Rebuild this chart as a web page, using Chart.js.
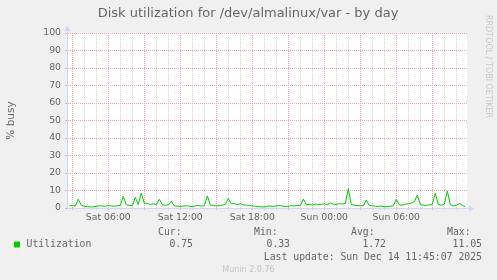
<!DOCTYPE html>
<html>
<head>
<meta charset="utf-8">
<script src="https://cdn.jsdelivr.net/npm/chart.js@4.4.0/dist/chart.umd.min.js"></script>
<style>
  body { margin: 0; background: #f0f0f0; }
</style>
</head>
<body>
<canvas id="diskChart" width="497" height="280"></canvas>
<script>
// samples every 15 minutes, hours counted from Sat 00:00
const startHour = 2.75;
const stepHour = 0.25;
const utilization = [
  1.2, 1.4, 1.1, 5.0, 1.6,
  1.0, 0.8, 0.6, 0.7, 0.9,
  1.3, 1.1, 1.0, 1.4, 1.2, 1.0, 1.3, 1.5,
  6.6, 1.8, 1.5, 1.4, 6.0, 2.0, 8.5,
  2.8, 2.6, 2.0, 2.4, 1.8, 5.0,
  1.9, 1.5, 1.8, 3.9,
  1.2, 1.0, 0.9, 1.1, 1.3, 1.0, 0.8, 1.2, 1.5, 1.1, 1.3,
  6.9, 1.8, 1.4, 1.2, 1.3, 1.6, 2.0, 5.5,
  2.3, 2.6, 1.8, 2.4, 1.9, 1.6, 1.4,
  1.2, 1.0, 0.8, 0.6, 0.7, 1.0, 1.1, 0.9, 1.2, 1.4, 1.1, 0.9, 1.0, 1.3, 1.2, 1.5, 1.4,
  5.1,
  1.8, 2.0, 1.7, 2.2, 1.9, 2.1, 2.4, 2.0, 2.9, 2.2, 2.0, 2.5, 2.3, 2.6,
  11.05,
  1.9, 1.6, 1.4, 1.3, 1.2, 4.6,
  1.5, 1.2, 1.0, 0.9, 1.1, 0.8, 0.7, 1.0, 1.2, 5.0,
  1.8, 1.6, 2.2, 2.4, 2.8, 3.6, 7.4,
  2.0, 1.6, 1.4, 1.8, 2.0, 8.4,
  1.9, 1.6, 2.2, 9.7,
  2.0, 1.2, 1.5, 2.7, 1.4, 0.75
];
const tickHours = [6, 12, 18, 24, 30];
const tickLabels = ["Sat 06:00", "Sat 12:00", "Sat 18:00", "Sun 00:00", "Sun 06:00"];
const statNames = ["Cur:", "Min:", "Avg:", "Max:"];
const statValues = ["0.75", "0.33", "1.72", "11.05"];

const GRID = "#d4d4d4";
const MGRID = "#f2a6a6";
const AXIS = "#cfd6f8";
const FONT = "#666666";

const points = utilization.map((v, i) => ({ x: startHour + i * stepHour, y: v }));

const muninDeco = {
  id: "muninDeco",
  beforeDraw(chart) {
    const { ctx, chartArea: a } = chart;
    ctx.save();
    ctx.fillStyle = "#f0f0f0";
    ctx.fillRect(0, 0, chart.width, chart.height);
    ctx.fillStyle = "#ffffff";
    ctx.fillRect(a.left, a.top, a.right - a.left, a.bottom - a.top);
    ctx.restore();
  },
  afterDraw(chart) {
    const { ctx, chartArea: a } = chart;
    ctx.save();
    // axis arrows
    ctx.fillStyle = AXIS;
    ctx.strokeStyle = AXIS;
    ctx.lineWidth = 1;
    ctx.beginPath();
    ctx.moveTo(a.left + 0.5, a.top);
    ctx.lineTo(a.left + 0.5, a.top - 3);
    ctx.moveTo(a.right, a.bottom + 0.5);
    ctx.lineTo(a.right + 3, a.bottom + 0.5);
    ctx.stroke();
    ctx.beginPath();
    ctx.moveTo(a.left - 2.5, a.top - 2);
    ctx.lineTo(a.left + 3.5, a.top - 2);
    ctx.lineTo(a.left + 0.5, a.top - 7);
    ctx.fill();
    ctx.beginPath();
    ctx.moveTo(a.right + 2, a.bottom - 2.5);
    ctx.lineTo(a.right + 2, a.bottom + 3.5);
    ctx.lineTo(a.right + 7, a.bottom + 0.5);
    ctx.fill();

    ctx.fillStyle = FONT;
    ctx.textBaseline = "middle";
    ctx.textAlign = "center";
    ctx.font = "13px 'DejaVu Sans'";
    ctx.fillText("Disk utilization for /dev/almalinux/var - by day", 248, 13.5);

    // legend
    ctx.font = "9.8px 'DejaVu Sans Mono'";
    ctx.textAlign = "left";
    const nameX = [158, 254, 351, 447];
    const valX = [193, 290, 386, 482];
    statNames.forEach((n, i) => ctx.fillText(n, nameX[i], 232.5));
    ctx.textAlign = "right";
    statValues.forEach((v, i) => ctx.fillText(v, valX[i], 244.5));
    ctx.fillText("Last update: Sun Dec 14 11:45:07 2025", 482, 257);
    ctx.textAlign = "left";
    ctx.fillText("Utilization", 26.5, 244.5);
    ctx.fillStyle = "#00cc00";
    ctx.fillRect(14, 241.5, 6, 6);

    ctx.fillStyle = "#c4c4c4";
    ctx.textAlign = "center";
    ctx.font = "8px 'DejaVu Sans'";
    ctx.fillText("Munin 2.0.76", 248.5, 270);

    ctx.translate(488, 15);
    ctx.rotate(Math.PI / 2);
    ctx.textAlign = "left";
    ctx.font = "8px 'DejaVu Sans'";
    ctx.fillStyle = "#c8c8c8";
    ctx.fillText("RRDTOOL / TOBI OETIKER", 0, 0);
    ctx.restore();
  }
};

new Chart(document.getElementById("diskChart"), {
  type: "line",
  data: {
    datasets: [{
      label: "Utilization",
      data: points,
      borderColor: "#00cc00",
      borderWidth: 1,
      pointRadius: 0,
      tension: 0,
      fill: false
    }]
  },
  options: {
    responsive: false,
    animation: false,
    devicePixelRatio: 1,
    layout: { padding: { left: 0, top: 33, right: 30, bottom: 52 } },
    plugins: { legend: { display: false }, title: { display: false }, tooltip: { enabled: false } },
    scales: {
      x: {
        type: "linear",
        min: 2.56,
        max: 35.89,
        afterBuildTicks(scale) {
          const t = [];
          for (let h = 3; h <= 35; h++) t.push({ value: h });
          scale.ticks = t;
        },
        afterFit(scale) { scale.height = 20; },
        ticks: {
          autoSkip: false,
          maxRotation: 0,
          padding: 2,
          color: FONT,
          font: { family: "DejaVu Sans", size: 9.3 },
          callback: (v) => {
            const i = tickHours.indexOf(v);
            return i < 0 ? "" : tickLabels[i];
          }
        },
        grid: {
          color: (c) => (c.tick && c.tick.value % 3 === 0 ? MGRID : GRID),
          tickColor: (c) => (c.tick && c.tick.value % 3 === 0 ? MGRID : GRID),
          tickLength: 2
        },
        border: { color: AXIS, dash: [1, 1] }
      },
      y: {
        min: 0,
        max: 100,
        ticks: {
          stepSize: 5,
          padding: 4,
          color: FONT,
          font: { family: "DejaVu Sans", size: 9.3 },
          callback: (v) => (v % 10 === 0 ? String(v) : "")
        },
        afterFit(scale) { scale.width = 67; },
        grid: {
          color: (c) => (c.tick && c.tick.value % 10 === 0 ? MGRID : GRID),
          tickColor: (c) => (c.tick && c.tick.value % 10 === 0 ? MGRID : GRID),
          tickLength: 2
        },
        border: { color: AXIS, dash: [1, 1] },
        title: {
          display: true,
          text: "% busy",
          color: FONT,
          padding: 5,
          font: { family: "DejaVu Sans", size: 10.5 }
        }
      }
    }
  },
  plugins: [muninDeco]
});
</script>
</body>
</html>
